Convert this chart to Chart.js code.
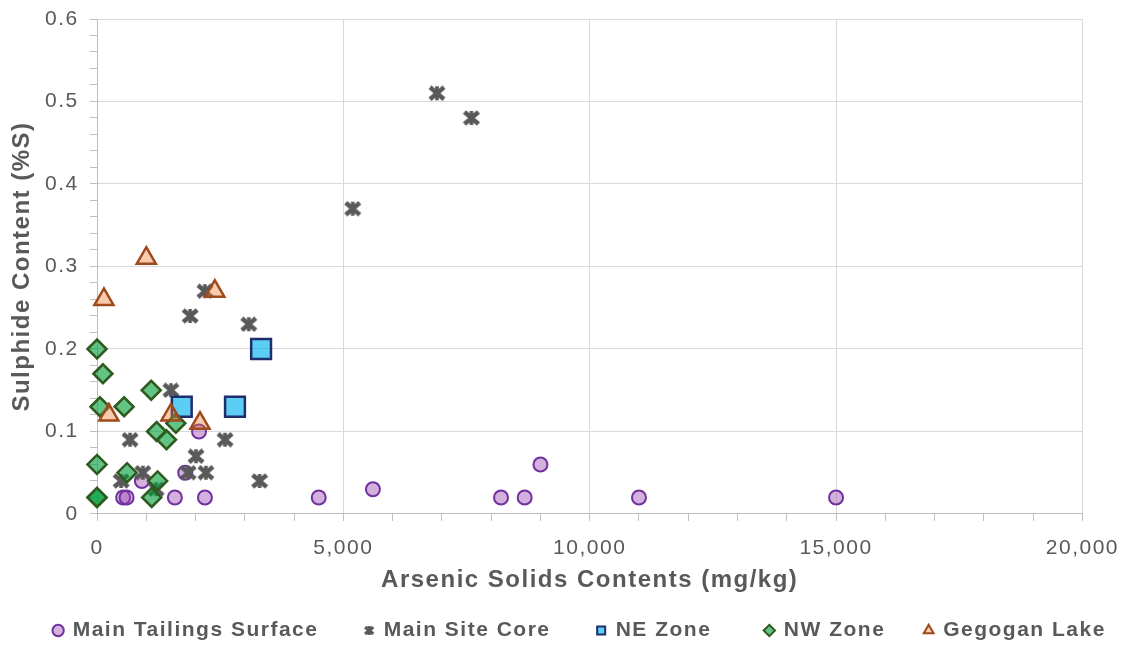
<!DOCTYPE html>
<html>
<head>
<meta charset="utf-8">
<script src="https://cdn.jsdelivr.net/npm/chart.js@4.4.0/dist/chart.umd.min.js"></script>
<style>
  html, body { margin: 0; padding: 0; background: #fff; }
</style>
</head>
<body>
<canvas id="scatterChart" width="1127" height="647"></canvas>
<script>
// ============================
// DATA
// ============================

const tailingsAs = [530, 600, 910, 1580, 1790, 2070, 2190, 4500, 5600, 8200, 8680, 9000, 11000, 15000];
const tailingsS  = [0.02, 0.02, 0.04, 0.02, 0.05, 0.10, 0.02, 0.02, 0.03, 0.02, 0.02, 0.06, 0.02, 0.02];

const coreAs = [490, 670, 930, 1200, 1500, 1850, 1890, 2010, 2190, 2210, 2600, 3080, 3300, 5190, 6900, 7600];
const coreS  = [0.04, 0.09, 0.05, 0.03, 0.15, 0.05, 0.24, 0.07, 0.27, 0.05, 0.09, 0.23, 0.04, 0.37, 0.51, 0.48];

const neAs = [1720, 2800, 3330];
const neS  = [0.13, 0.13, 0.20];

const nwAs = [0, 120, 60, 550, 1100, 0, 0, 0, 610, 1210, 1410, 1600, 1230, 1110];
const nwS  = [0.20, 0.17, 0.13, 0.13, 0.15, 0.06, 0.02, 0.02, 0.05, 0.10, 0.09, 0.11, 0.04, 0.02];

const lakeAs = [140, 1000, 2390, 240, 1500, 2090];
const lakeS  = [0.26, 0.31, 0.27, 0.12, 0.12, 0.11];

const seriesNames = ['Main Tailings Surface', 'Main Site Core', 'NE Zone', 'NW Zone', 'Gegogan Lake'];

const xTicks = [0, 5000, 10000, 15000, 20000];
const yTicks = [0, 0.1, 0.2, 0.3, 0.4, 0.5, 0.6];

function pts(xs, ys) {
    return xs.map((x, i) => ({ x: x, y: ys[i] }));
}

// asterisk-like marker (x with a vertical bar)
function makeStar(w, h, lw) {
    const c = document.createElement('canvas');
    c.width = w; c.height = h;
    const g = c.getContext('2d');
    g.strokeStyle = '#595959';
    g.lineWidth = lw;
    g.beginPath();
    g.moveTo(2, 2); g.lineTo(w - 2, h - 2);
    g.moveTo(w - 2, 2); g.lineTo(2, h - 2);
    g.stroke();
    g.lineWidth = lw * 0.8;
    g.beginPath();
    g.moveTo(w / 2, 1); g.lineTo(w / 2, h - 1);
    g.stroke();
    return c;
}

const starBig = makeStar(18, 16, 4.5);
const starSmall = makeStar(12, 11, 3.5);

// trailing gaps after each legend entry (spaces)
const legendGap = [5, 5, 6, 4, 0];

// wide letter spacing of the original text
const spacing = {
    id: 'spacing',
    beforeUpdate(chart) { chart.ctx.letterSpacing = '1.5px'; },
    beforeDraw(chart) { chart.ctx.letterSpacing = '1.5px'; }
};

Chart.defaults.font.family = '"Liberation Sans", Arial, sans-serif';
Chart.defaults.color = '#595959';

const ctx = document.getElementById('scatterChart');

new Chart(ctx, {

    type: 'scatter',

    data: {

        // first dataset is drawn on top, legend is reversed
        datasets: [
            {
                label: seriesNames[4],
                data: pts(lakeAs, lakeS),
                pointStyle: 'triangle',
                pointRadius: 11,
                pointBorderWidth: 2.5,
                backgroundColor: 'rgba(237,125,49,0.4)',
                borderColor: '#9e4a1c',
                clip: false
            },
            {
                label: seriesNames[3],
                data: pts(nwAs, nwS),
                pointStyle: 'rectRot',
                pointRadius: 9.5,
                pointBorderWidth: 2.5,
                backgroundColor: 'rgba(0,160,60,0.62)',
                borderColor: '#2e5a1e',
                clip: false
            },
            {
                label: seriesNames[2],
                data: pts(neAs, neS),
                pointStyle: 'rect',
                pointRadius: 14,
                pointBorderWidth: 2.5,
                backgroundColor: 'rgba(0,176,240,0.64)',
                borderColor: '#1f2d6b',
                clip: false
            },
            {
                label: seriesNames[1],
                data: pts(coreAs, coreS),
                pointStyle: starBig,
                pointRadius: 8,
                backgroundColor: '#595959',
                borderColor: '#595959',
                clip: false
            },
            {
                label: seriesNames[0],
                data: pts(tailingsAs, tailingsS),
                pointStyle: 'circle',
                pointRadius: 7,
                pointBorderWidth: 2,
                backgroundColor: 'rgba(160,80,180,0.45)',
                borderColor: '#7030a0',
                clip: false
            }
        ]

    },

    options: {

        responsive: false,
        animation: false,

        layout: {
            padding: { left: 4, right: -29, top: 19, bottom: -4 }
        },

        scales: {

            x: {
                type: 'linear',
                min: 0,
                max: 20000,
                ticks: {
                    stepSize: 1000,
                    autoSkip: false,
                    maxRotation: 0,
                    padding: 8,
                    font: { size: 21, lineHeight: 1.81 },
                    callback: v => xTicks.includes(v) ? v.toLocaleString('en-US') : ''
                },
                grid: {
                    color: c => (c.tick && xTicks.includes(c.tick.value)) ? '#d9d9d9' : 'rgba(0,0,0,0)',
                    tickColor: '#bfbfbf',
                    tickLength: 7
                },
                border: { color: '#bfbfbf' },
                title: {
                    display: true,
                    text: 'Arsenic Solids Contents (mg/kg)',
                    font: { size: 24, weight: 'bold' },
                    padding: { top: -9.4, bottom: 15.6 }
                }
            },

            y: {
                min: 0,
                max: 0.6,
                ticks: {
                    stepSize: 0.02,
                    autoSkip: false,
                    padding: 4,
                    font: { size: 21 },
                    callback: v => {
                        const r = Math.round(v * 100) / 100;
                        return yTicks.includes(r) ? String(r) + ' ' : '';
                    }
                },
                grid: {
                    color: c => (c.tick && yTicks.includes(Math.round(c.tick.value * 100) / 100)) ? '#d9d9d9' : 'rgba(0,0,0,0)',
                    tickColor: '#bfbfbf',
                    tickLength: 7
                },
                border: { color: '#bfbfbf' },
                title: {
                    display: true,
                    text: 'Sulphide Content (%S)',
                    font: { size: 24, weight: 'bold' },
                    padding: { top: 3.6, bottom: 4.6 }
                }
            }

        },

        plugins: {

            legend: {
                position: 'bottom',
                reverse: true,
                labels: {
                    usePointStyle: true,
                    boxWidth: 8,
                    boxHeight: 8,
                    padding: 10,
                    font: { size: 21, weight: 'bold' },
                    generateLabels(chart) {
                        const items = Chart.defaults.plugins.legend.labels.generateLabels(chart);
                        items.forEach(it => {
                            const k = seriesNames.indexOf(it.text);
                            it.lineWidth = 2;
                            if (k === 1) it.pointStyle = starSmall;
                            it.text = it.text + ' '.repeat(legendGap[k]);
                        });
                        return items;
                    }
                }
            },

            tooltip: { enabled: false }

        }

    },

    plugins: [spacing]

});
</script>
</body>
</html>
